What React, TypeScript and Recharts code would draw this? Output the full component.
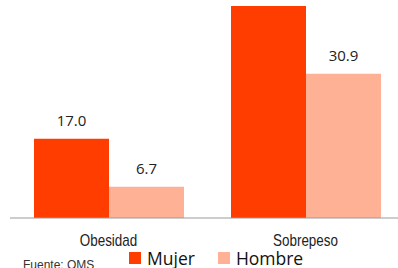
import React from 'react';
import { BarChart, Bar, XAxis, YAxis, LabelList } from 'recharts';

const categories = ['Obesidad', 'Sobrepeso'];
const mujer = [17.0, 45.4];
const hombre = [6.7, 30.9];
const seriesNames = ['Mujer', 'Hombre'];
const seriesColors = ['#FF3D00', '#FFB196'];
const sourceText = 'Fuente: OMS';

const data = categories.map((c, i) => ({ name: c, Mujer: mujer[i], Hombre: hombre[i] }));

const NarrowTick = (props: any) => {
  const { x, y, payload } = props;
  return (
    <g transform={`translate(${x},${y})`}>
      <text
        textAnchor="middle"
        dy={11.6}
        transform="scale(0.84,1)"
        style={{ fontSize: 16, fontFamily: '"Liberation Sans", Arial, sans-serif', fill: '#222' }}
      >
        {payload.value}
      </text>
    </g>
  );
};

export default function App() {
  return (
    <div style={{ position: 'absolute', left: 0, top: 0, width: 398, height: 268, overflow: 'hidden', background: '#fff' }}>
      <BarChart
        width={404}
        height={268}
        data={data}
        margin={{ top: 0, right: 0, left: 10, bottom: 20 }}
        barCategoryGap={24}
        barGap={0}
      >
        <XAxis
          xAxisId="edges"
          type="number"
          domain={[0, 2]}
          ticks={[0, 1, 2]}
          tick={false}
          tickSize={5}
          tickLine={{ stroke: '#9a9a9a' }}
          axisLine={false}
          height={0}
          allowDataOverflow
        />
        <XAxis
          dataKey="name"
          tickLine={false}
          tickSize={5}
          tickMargin={11}
          height={30}
          axisLine={{ stroke: '#9a9a9a' }}
          tick={<NarrowTick />}
        />
        <YAxis hide domain={[0, 46.7]} />
        {seriesNames.map((s, i) => (
          <Bar key={s} dataKey={s} fill={seriesColors[i]} isAnimationActive={false}>
            <LabelList
              dataKey={s}
              position="top"
              offset={13}
              formatter={(v: number) => v.toFixed(1)}
              style={{ fontSize: 15, fontFamily: '"Open Sans", sans-serif', fill: '#222' }}
            />
          </Bar>
        ))}
      </BarChart>
      <div
        style={{
          position: 'absolute',
          left: 129,
          top: 246.4,
          display: 'flex',
          alignItems: 'center',
          fontFamily: '"Open Sans", sans-serif',
          fontSize: 17.5,
          color: '#111',
        }}
      >
        {seriesNames.map((s, i) => (
          <div key={s} style={{ display: 'flex', alignItems: 'center', marginRight: 23 }}>
            <div style={{ width: 12, height: 12, background: seriesColors[i], marginRight: 6 }} />
            <span>{s}</span>
          </div>
        ))}
      </div>
      <div
        style={{
          position: 'absolute',
          left: 23,
          top: 258.8,
          fontFamily: '"Liberation Sans", Arial, sans-serif',
          fontSize: 12,
          lineHeight: '12px',
          color: '#333',
          whiteSpace: 'nowrap',
        }}
      >
        {sourceText}
      </div>
    </div>
  );
}
